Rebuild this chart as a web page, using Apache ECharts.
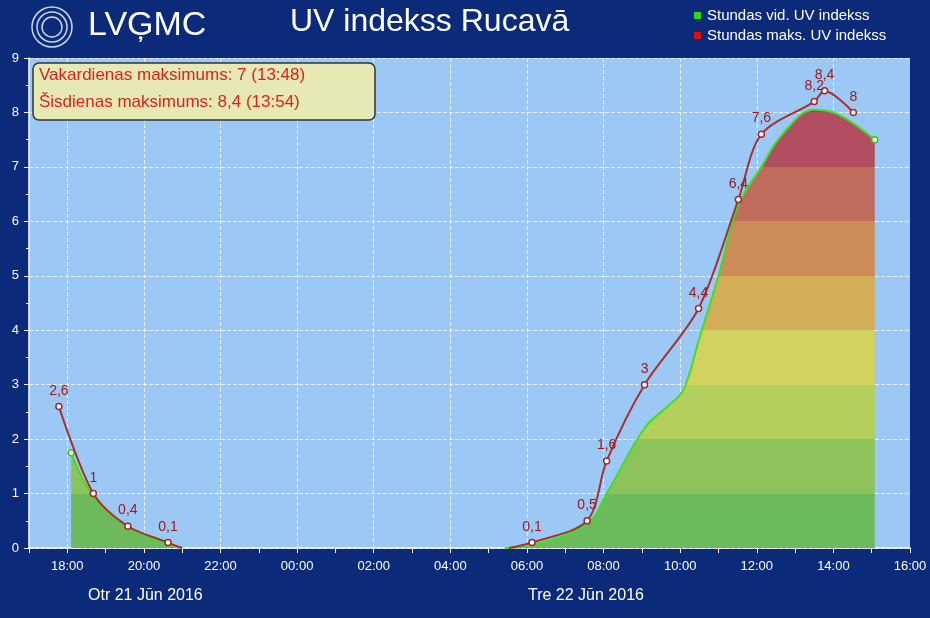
<!DOCTYPE html>
<html><head><meta charset="utf-8">
<script src="https://cdn.jsdelivr.net/npm/echarts@6/dist/echarts.min.js"></script>
<style>html,body{margin:0;padding:0;background:#0c2a7a}#c{width:930px;height:618px}</style>
</head><body><div id="c"></div>
<script>
// hours since 21 Jun 2016 00:00
const maxHours = [17.78, 18.68, 19.58, 20.63, 21.0, null, 29.53, 30.13, 31.57, 32.08, 33.07, 34.48, 35.52, 36.12, 37.5, 37.77, 38.52];
const maxValues = [2.6, 1, 0.4, 0.1, 0, null, 0, 0.1, 0.5, 1.6, 3, 4.4, 6.4, 7.6, 8.2, 8.4, 8];
const avgHours = [18.1, 18.68, 19.58, 20.63, 21.0, null, 29.42, 30.13, 31.57, 32.08, 33.07, 33.67, 34.08, 34.48, 35.0, 35.52, 36.12, 36.67, 37.5, 38.0, 38.52, 39.08];
const avgValues = [1.75, 0.95, 0.4, 0.07, 0, null, 0, 0.05, 0.45, 1.0, 2.2, 2.6, 2.9, 3.8, 5.0, 6.3, 7.0, 7.6, 8.05, 8.0, 7.8, 7.5];
const gridHours = [18, 20, 22, 24, 26, 28, 30, 32, 34, 36, 38];
const yTicks = [0,1,2,3,4,5,6,7,8,9];
const dayLabels = ['Otr 21 Jūn 2016', 'Tre 22 Jūn 2016'];
const boxLines = ['Vakardienas maksimums: 7 (13:48)', 'Šisdienas maksimums: 8,4 (13:54)'];
const legendNames = ['Stundas vid. UV indekss', 'Stundas maks. UV indekss'];

const F = 'Liberation Sans, Arial, sans-serif';
const zip = (xs, ys) => xs.map((x, i) => x === null ? [null, null] : [x, ys[i]]);
const maxData = zip(maxHours, maxValues).map(p => p[1] === 0 ? {value: p, symbol: 'none', label: {show: false}} : p);
const avgData = zip(avgHours, avgValues);
const avgLine = avgData.map((p, i) => (i === 0 || i === avgData.length - 1) ? {value: p, symbol: 'circle', symbolSize: 6} : p);

const chart = echarts.init(document.getElementById('c'));
chart.setOption({
  backgroundColor: '#0c2a7a',
  animation: false,
  grid: {left: 29, right: 20, top: 58, bottom: 70},
  xAxis: {type: 'value', min: 17, max: 40, interval: 1,
    axisLine: {lineStyle: {color: '#ffffff', width: 1.5}},
    axisTick: {lineStyle: {color: '#ffffff'}, length: 5},
    axisLabel: {color: '#ffffff', fontFamily: F, fontSize: 13, margin: 12,
      formatter: v => v % 2 === 1 ? '' : String(v % 24).padStart(2, '0') + ':00'},
    splitLine: {show: false}},
  yAxis: {type: 'value', min: 0, max: 9, interval: 1,
    axisLine: {show: true, lineStyle: {color: '#ffffff', width: 1.5}},
    axisTick: {show: true, lineStyle: {color: '#ffffff'}},
    minorTick: {show: true, splitNumber: 2, lineStyle: {color: '#ffffff'}, length: 3},
    axisLabel: {color: '#ffffff', fontFamily: F, fontSize: 13, margin: 10, formatter: v => yTicks.includes(v) ? String(v) : ''},
    splitLine: {show: true, lineStyle: {color: 'rgba(255,255,255,0.75)', type: 'dashed'}}},
  visualMap: {show: false, seriesIndex: 0, dimension: 1, type: 'piecewise',
    pieces: [
      {gte: 0, lt: 1, color: '#6cba5c'}, {gte: 1, lt: 2, color: '#8dc35a'},
      {gte: 2, lt: 3, color: '#b3cf5c'}, {gte: 3, lt: 4, color: '#d2d35e'},
      {gte: 4, lt: 5, color: '#d3ad58'}, {gte: 5, lt: 6, color: '#cb8c58'},
      {gte: 6, lt: 7, color: '#c06c5c'}, {gte: 7, lt: 8, color: '#b24e62'},
      {gte: 8, lt: 10, color: '#a43c66'}]},
  series: [
    {type: 'line', data: avgData, smooth: 0.4, symbol: 'none', lineStyle: {width: 0}, areaStyle: {opacity: 1}, z: 2,
      markLine: {silent: true, symbol: 'none', label: {show: false}, z: 1,
        lineStyle: {color: 'rgba(255,255,255,0.75)', type: 'dashed', width: 1},
        data: gridHours.map(h => ({xAxis: h}))}},
    {type: 'line', data: avgLine, smooth: 0.4, symbol: 'none', itemStyle: {color: '#ffffff', borderColor: '#33cc22', borderWidth: 1.5},
      lineStyle: {color: '#3fe020', width: 2}, z: 3},
    {type: 'line', data: maxData, smooth: 0.3, symbol: 'circle', symbolSize: 6,
      itemStyle: {color: '#ffffff', borderColor: '#a02a2a', borderWidth: 1.5},
      lineStyle: {color: '#a8302e', width: 2}, z: 4,
      label: {show: true, position: 'top', color: '#a01818', fontFamily: F, fontSize: 14, distance: 5,
        formatter: p => String(p.value[1]).replace('.', ',')}}
  ],
  graphic: [
    {type: 'rect', z: -10, shape: {x: 29, y: 58, width: 881, height: 490}, style: {fill: '#9cc8f6'}},
    {type: 'circle', shape: {cx: 52, cy: 27, r: 20}, style: {fill: 'none', stroke: '#c8d8f0', lineWidth: 1.5}},
    {type: 'circle', shape: {cx: 52, cy: 27, r: 15}, style: {fill: 'none', stroke: '#c8d8f0', lineWidth: 1.5}},
    {type: 'circle', shape: {cx: 52, cy: 27, r: 10}, style: {fill: 'none', stroke: '#c8d8f0', lineWidth: 1.5}},
    {type: 'text', x: 88, y: 9, style: {text: 'LVĢMC', fill: '#ffffff', font: '34px ' + F}},
    {type: 'text', x: 290, y: 6, style: {text: 'UV indekss Rucavā', fill: '#ffffff', font: '32px ' + F}},
    {type: 'rect', shape: {x: 694, y: 12, width: 7, height: 7}, style: {fill: '#22dd22'}},
    {type: 'rect', shape: {x: 694, y: 32, width: 7, height: 7}, style: {fill: '#dd1111'}},
    {type: 'text', x: 707, y: 8, style: {text: legendNames[0], fill: '#ffffff', font: '15px ' + F}},
    {type: 'text', x: 707, y: 28, style: {text: legendNames[1], fill: '#ffffff', font: '15px ' + F}},
    {type: 'rect', z: 20, shape: {x: 33, y: 63, width: 342, height: 57, r: 6}, style: {fill: '#e6e9b4', stroke: '#333333', lineWidth: 1.5}},
    {type: 'text', z: 21, x: 39, y: 67, style: {text: boxLines[0], fill: '#e02020', font: '17px ' + F}},
    {type: 'text', z: 21, x: 39, y: 94, style: {text: boxLines[1], fill: '#e02020', font: '17px ' + F}},
    {type: 'text', x: 88, y: 588, style: {text: dayLabels[0], fill: '#ffffff', font: '16px ' + F}},
    {type: 'text', x: 528, y: 588, style: {text: dayLabels[1], fill: '#ffffff', font: '16px ' + F}}
  ]
});
</script></body></html>
